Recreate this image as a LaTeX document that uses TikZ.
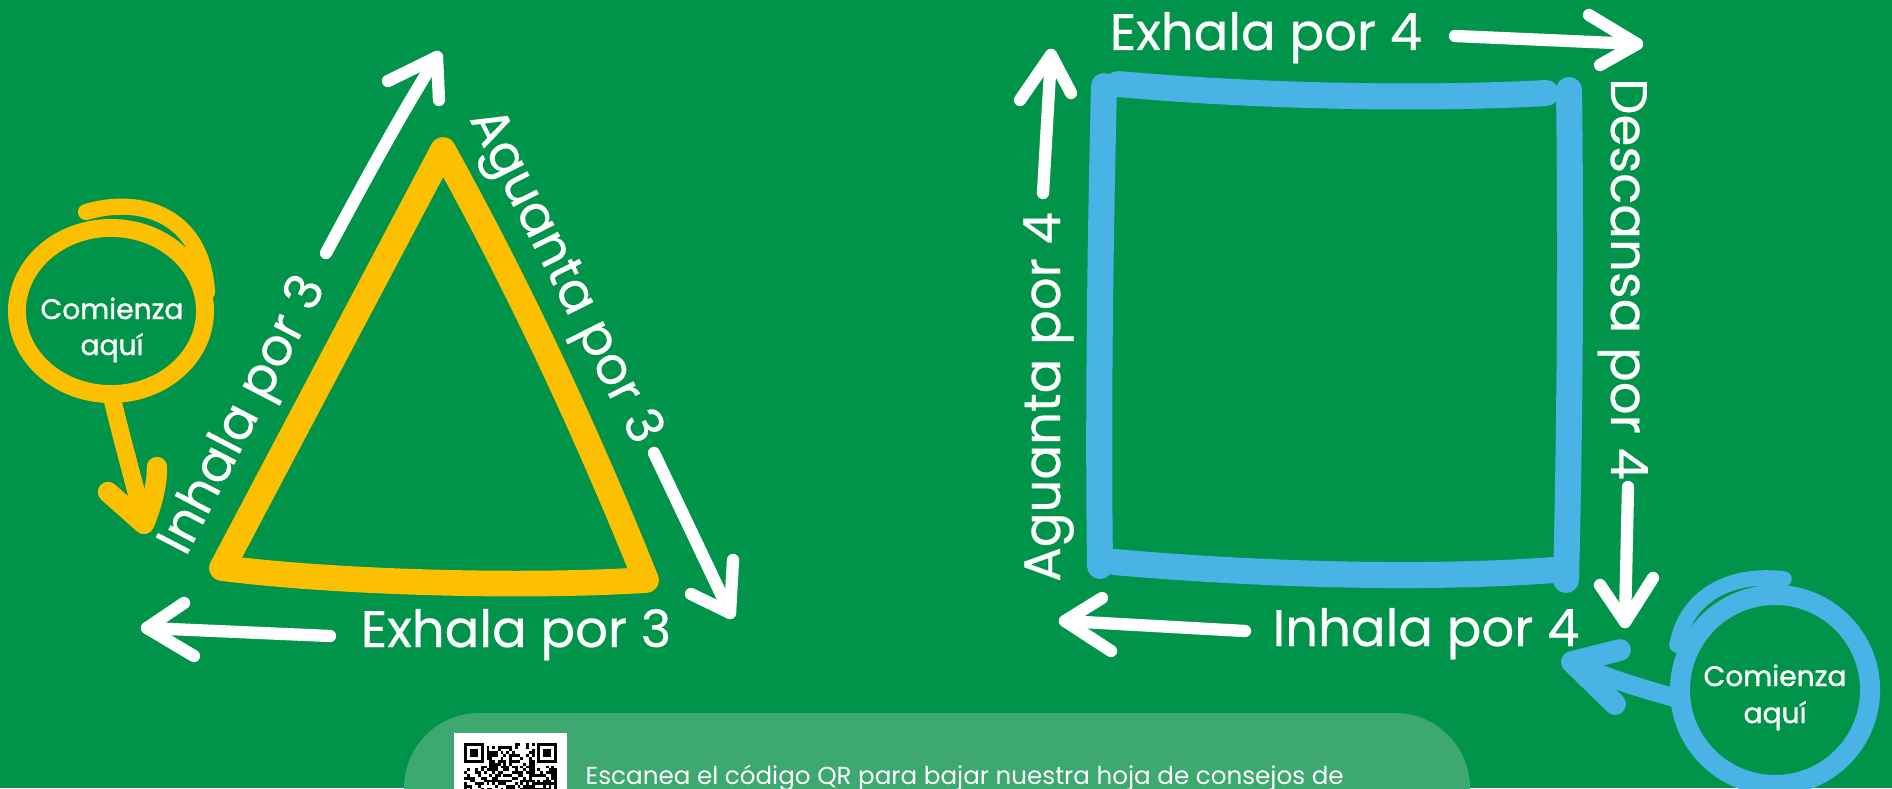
\documentclass[tikz,border=0pt]{standalone}
\usepackage{fontspec}
\setmainfont{Poppins}
\newfontfamily\popmed{Poppins}[FakeBold=1.2]
\newfontfamily\poplbl{Poppins}[FakeBold=0.5]
\definecolor{bg}{RGB}{0,147,74}
\definecolor{boxg}{RGB}{61,168,111}
\definecolor{yel}{RGB}{252,192,0}
\definecolor{blu}{RGB}{74,179,229}
\tikzset{
  yel/.style={draw=yel, line width=7.3pt, line cap=round, line join=round},
  blu/.style={draw=blu, line width=7.4pt, line cap=round, line join=round},
  warr/.style={draw=white, line width=3.5pt, line cap=round, line join=round},
  lbl/.style={text=white, font=\poplbl\fontsize{14.6}{16}\selectfont, inner sep=0pt, anchor=base},
  cmz/.style={text=white, font=\popmed\fontsize{8}{10}\selectfont, inner sep=0pt, anchor=base},
  foot/.style={text=white, font=\fontsize{7}{9}\selectfont, inner sep=0pt, anchor=base west}
}
\begin{document}
\begin{tikzpicture}[x=0.01cm,y=-0.01cm]
\useasboundingbox (0,0) rectangle (1892,788);
\clip (0,0) rectangle (1892,788);
\fill[bg] (0,0) rectangle (1892,788);

% ---------- bottom box ----------
\fill[boxg, rounded corners=0.75cm] (404,713) rectangle (1470,900);
\fill[white] (454,733) rectangle (567,846);
\pgfmathsetseed{7}
\foreach \i in {0,...,32}{
  \foreach \j in {0,...,16}{
    \pgfmathsetmacro\r{rnd}
    \pgfmathtruncatemacro\infd{((\i<8) && (\j<8)) || ((\i>24) && (\j<8)) ? 1 : 0}
    \ifnum\infd=0
      \ifdim\r pt<0.5pt
        \fill[black] ({464+\i*2.82},{743+\j*2.82}) rectangle ++(2.82,2.82);
      \fi
    \fi
  }
}
\foreach \fx in {464,537.3}{
  \fill[black] (\fx,743) rectangle ++(19.74,19.74);
  \fill[white] ({\fx+2.82},745.82) rectangle ++(14.1,14.1);
  \fill[black] ({\fx+5.64},748.64) rectangle ++(8.46,8.46);
}
\node[foot] (foot) at (585,784) {Escanea el código QR para bajar nuestra hoja de consejos de};

% ---------- triangle ----------
\coordinate (tA) at (443,150);
\coordinate (tB) at (222,568);
\coordinate (tC) at (646,580);
\draw[yel] (tB) -- (tA) .. controls (520,289) and (587,433) .. (tC)
  .. controls (520,588) and (330,582) .. (tB) -- cycle;

% yellow start circle
\draw[yel, line width=5.1pt] (111,311) ellipse [x radius=0.94cm, y radius=0.83cm];
\draw[yel, line width=4.6pt] (86,212) .. controls (140,196) and (202,214) .. (207,292);
\coordinate (ya0) at (113,402);
\coordinate (yatip) at (144,524);
\coordinate (yal) at (108,492);
\coordinate (yar) at (157,467);
\draw[yel, line width=5pt] (ya0) .. controls (122,440) and (135,485) .. (yatip);
\draw[yel, line width=5.8pt] (yal) -- (yatip) .. controls (152,505) and (157,485) .. (yar);
\node[cmz] (c1a) at (112,319) {Comienza};
\node[cmz] (c1b) at (112,355) {aquí};

% triangle arrows
\coordinate (a1s) at (326,253); \coordinate (a1t) at (437,57);
\coordinate (a1l) at (388,81);  \coordinate (a1r) at (439,100);
\draw[warr] (a1s) .. controls (360,190) and (400,115) .. (a1t);
\draw[warr] (a1l) -- (a1t) -- (a1r);
\coordinate (a2s) at (654,453); \coordinate (a2t) at (730,613);
\coordinate (a2l) at (691,594); \coordinate (a2r) at (733,560);
\draw[warr] (a2s) -- (a2t);
\draw[warr] (a2l) -- (a2t) -- (a2r);
\coordinate (a3s) at (330,636); \coordinate (a3t) at (147,628);
\coordinate (a3u) at (184,603); \coordinate (a3d) at (194,656);
\draw[warr] (a3s) -- (a3t);
\draw[warr] (a3u) -- (a3t) -- (a3d);

% triangle labels
\node[lbl, rotate=62.6] (l1) at (256,422) {Inhala por 3};
\node[lbl, rotate=-63.2] (l2) at (552,283) {Aguanta por 3};
\node[lbl] (l3) at (516,647) {Exhala por 3};

% ---------- square ----------
\draw[blu] (1104,86) .. controls (1100,250) and (1098,420) .. (1100,566);
\draw[blu] (1118,84) .. controls (1250,96) and (1420,100) .. (1546,93);
\draw[blu] (1569,90) .. controls (1571,250) and (1570,420) .. (1566,580);
\draw[blu] (1114,562) .. controls (1250,574) and (1420,580) .. (1553,570);

% blue start circle
\draw[blu, line width=5.7pt] (1775,690) circle [radius=0.95cm];
\draw[blu, line width=4.4pt] (1677,645) .. controls (1685,600) and (1725,572) .. (1784,579);
\coordinate (ba0) at (1672,697);
\coordinate (batip) at (1572,662);
\coordinate (bau) at (1620,650);
\coordinate (bad) at (1615,704);
\draw[blu, line width=5.3pt] (ba0) .. controls (1640,688) and (1600,676) .. (batip);
\draw[blu, line width=6.2pt] (bau) -- (batip) -- (bad);
\node[cmz] (c2a) at (1775,686) {Comienza};
\node[cmz] (c2b) at (1775,723) {aquí};

% square arrows
\coordinate (b1s) at (1455,36); \coordinate (b1t) at (1637,44);
\coordinate (b1u) at (1589,15); \coordinate (b1d) at (1600,65);
\draw[warr] (b1s) -- (b1t);
\draw[warr] (b1u) -- (b1t) -- (b1d);
\coordinate (b2s) at (1628,487); \coordinate (b2t) at (1625,622);
\coordinate (b2l) at (1600,585); \coordinate (b2r) at (1653,578);
\draw[warr] (b2s) -- (b2t);
\draw[warr] (b2l) -- (b2t) -- (b2r);
\coordinate (b3s) at (1245,631); \coordinate (b3t) at (1065,621);
\coordinate (b3u) at (1102,598); \coordinate (b3d) at (1111,651);
\draw[warr] (b3s) -- (b3t);
\draw[warr] (b3u) -- (b3t) -- (b3d);
\coordinate (b4s) at (1043,193); \coordinate (b4t) at (1051,55);
\coordinate (b4l) at (1020,100); \coordinate (b4r) at (1071,93);
\draw[warr] (b4s) -- (b4t);
\draw[warr] (b4l) -- (b4t) -- (b4r);

% square labels
\node[lbl] (m1) at (1266,50) {Exhala por 4};
\node[lbl, rotate=-90] (m2) at (1611,279) {Descansa por 4};
\node[lbl] (m3) at (1426,646) {Inhala por 4};
\node[lbl, rotate=90] (m4) at (1060,397) {Aguanta por 4};
\end{tikzpicture}
\end{document}
